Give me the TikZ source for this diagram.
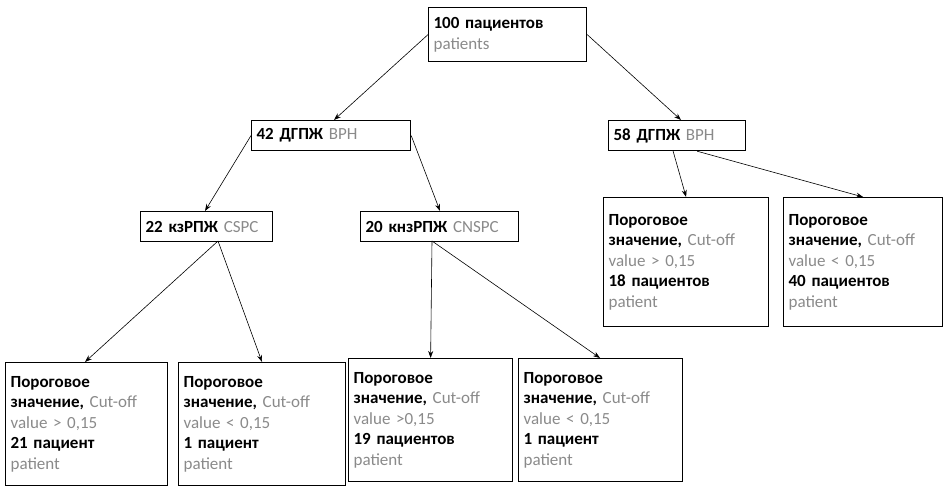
\documentclass[tikz,border=0pt]{standalone}
\usepackage{fontspec}
\setmainfont{Carlito}
\usetikzlibrary{arrows.meta}
\definecolor{engl}{HTML}{8A8A8A}
\newcommand\en[1]{\textcolor{engl}{#1}}
\tikzset{
  box/.style={draw, line width=1.2pt, anchor=north west, inner sep=5pt, font=\fontsize{17}{21}\selectfont},
  head/.style={box, minimum width=#1, minimum height=30pt, text width=#1-10pt, align=left},
  leaf/.style={box, align=left, text width=#1-10pt, minimum width=#1, minimum height=123pt, font=\fontsize{17}{20.5}\selectfont},
  link/.style={-{Stealth[length=7pt,width=5pt]}, semithick}
}
\begin{document}
\begin{tikzpicture}[x=1pt,y=-1pt]
\useasboundingbox (0,0) rectangle (950,494);
% upper levels
\node[head=158pt, minimum height=54pt] (root) at (428,7) {\textbf{100 пациентов}\\\en{patients}};
\node[head=159pt] (bphl) at (251,120) {\textbf{42 ДГПЖ} \en{BPH}};
\node[head=137pt] (bphr) at (608,120) {\textbf{58 ДГПЖ} \en{BPH}};
\node[head=132pt] (cspc) at (140,211) {\textbf{22 кзРПЖ} \en{CSPC}};
\node[head=158pt] (cnspc) at (360,211) {\textbf{20 кнзРПЖ} \en{CNSPC}};
% leaves
\node[leaf=162pt] (l1) at (5,362) {\textbf{Пороговое}\\\textbf{значение,} \en{Cut-off}\\\en{value > 0,15}\\\textbf{21 пациент}\\\en{patient}};
\node[leaf=167pt] (l2) at (178,362) {\textbf{Пороговое}\\\textbf{значение,} \en{Cut-off}\\\en{value < 0,15}\\\textbf{1 пациент}\\\en{patient}};
\node[leaf=164pt] (l3) at (348,358) {\textbf{Пороговое}\\\textbf{значение,} \en{Cut-off}\\\en{value >0,15}\\\textbf{19 пациентов}\\\en{patient}};
\node[leaf=164pt] (l4) at (518,358) {\textbf{Пороговое}\\\textbf{значение,} \en{Cut-off}\\\en{value < 0,15}\\\textbf{1 пациент}\\\en{patient}};
\node[leaf=165pt, minimum height=129pt] (r1) at (603,197) {\textbf{Пороговое}\\\textbf{значение,} \en{Cut-off}\\\en{value > 0,15}\\\textbf{18 пациентов}\\\en{patient}};
\node[leaf=159pt, minimum height=129pt] (r2) at (783,197) {\textbf{Пороговое}\\\textbf{значение,} \en{Cut-off}\\\en{value < 0,15}\\\textbf{40 пациентов}\\\en{patient}};
% connectors
\coordinate (t1) at (334,120);
\coordinate (t2) at (681,120);
\coordinate (t3) at (205,211);
\coordinate (t4) at (440,211);
\coordinate (s1) at (218,241);
\coordinate (s2) at (432,241);
\draw[link] (root.west) -- (t1);
\draw[link] (root.east) -- (t2);
\draw[link] (bphl.west) -- (t3);
\draw[link] (bphl.east) -- (t4);
\draw[link] (s1) -- (85,362) coordinate (e1);
\draw[link] (s1) -- (262,362) coordinate (e2);
\draw[link] (s2) -- (l3.north);
\draw[link] (s2) -- (600,358) coordinate (e4);
\draw[link] (bphr.south) ++(-4,0) coordinate (b3) -- (r1.north);
\draw[link] (bphr.south) ++(20,0) coordinate (b4) -- (r2.north);
\end{tikzpicture}
\end{document}
